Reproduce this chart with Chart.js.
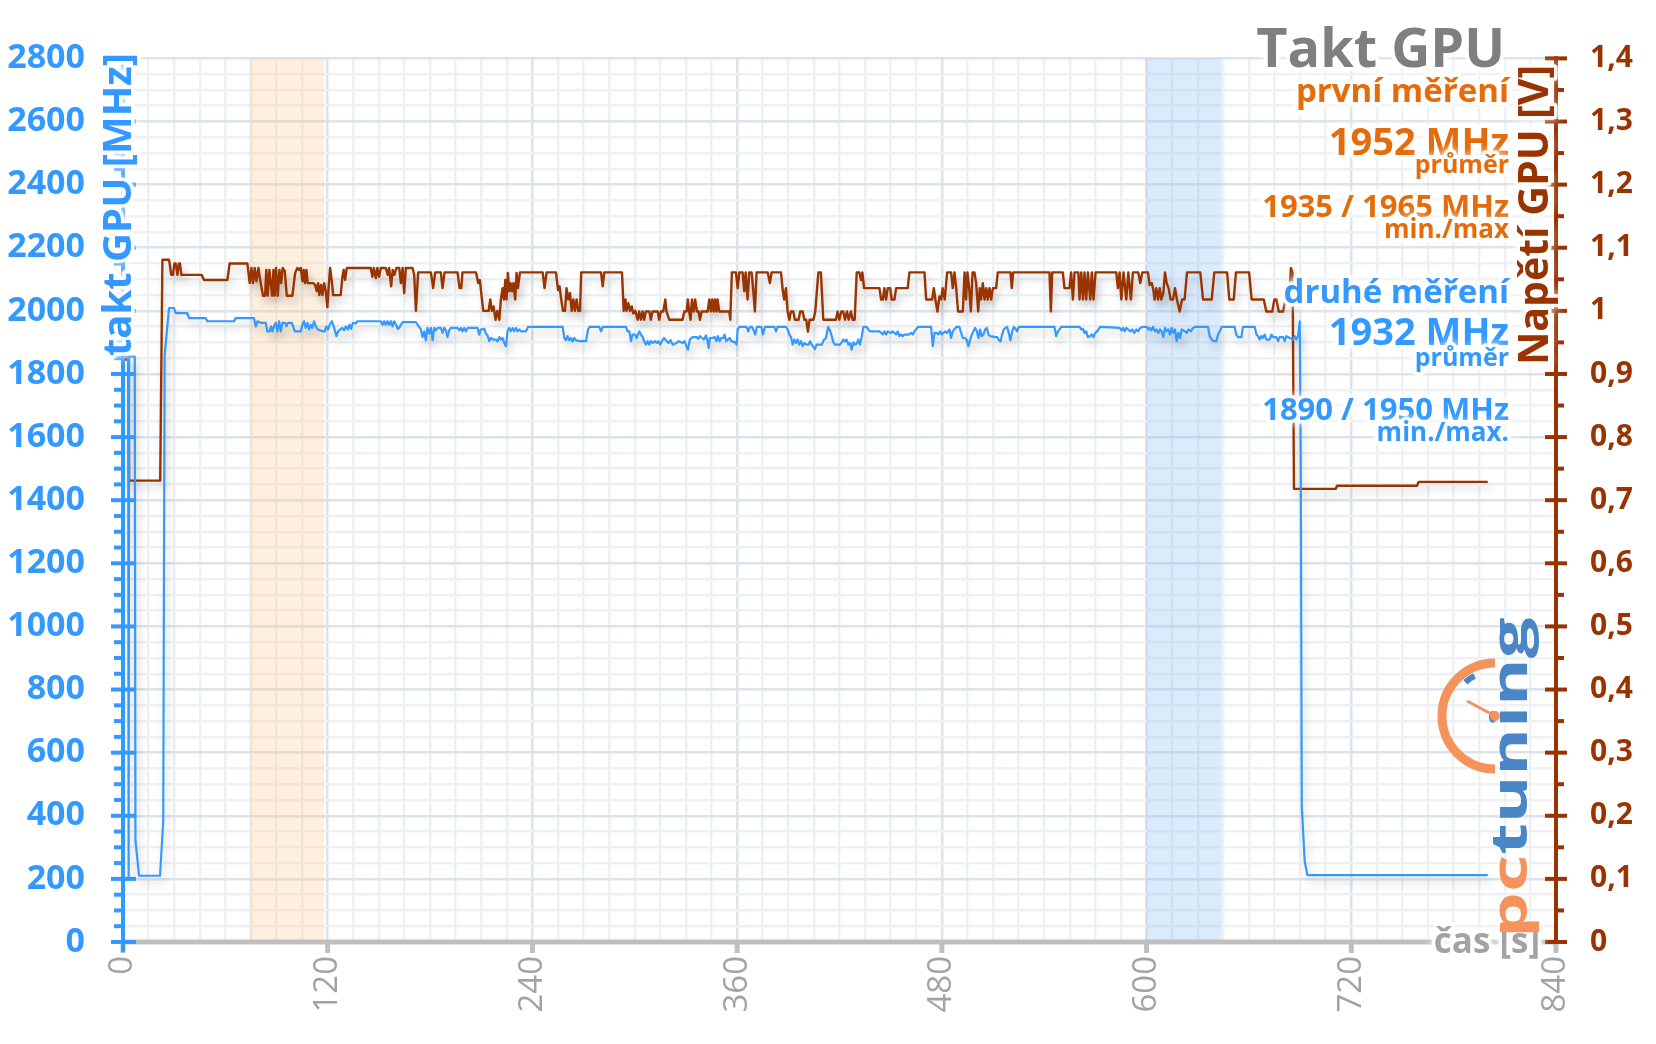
<!DOCTYPE html>
<html>
<head>
<meta charset="utf-8">
<title>Takt GPU</title>
<script src="https://cdn.jsdelivr.net/npm/chart.js@4.4.1/dist/chart.umd.min.js"></script>
<style>
  html, body { margin: 0; padding: 0; background: #ffffff; }
  #chart { display: block; }
</style>
</head>
<body>
<canvas id="chart" width="1656" height="1044"></canvas>
<script>
// GPU voltage samples [time s, volts] (first run)
const voltSamples = [
  [0,0.923],[3.2,0.923],[3.6,0.731],[21.8,0.731],[23.1,1.081],[27.0,1.081],[28.3,1.057],[29.3,1.057],
  [30.1,1.075],[30.9,1.075],[31.9,1.057],[32.8,1.075],[33.4,1.075],[34.2,1.057],[46.1,1.057],[47.5,1.049],
  [61.2,1.049],[62.5,1.075],[72.9,1.075],[74.3,1.044],[75.3,1.068],[76.2,1.044],[77.2,1.068],[78.2,1.047],
  [79.4,1.068],[80.7,1.044],[82.1,1.024],[83.3,1.024],[84.0,1.065],[84.8,1.024],[85.8,1.065],[86.6,1.044],
  [87.4,1.024],[88.2,1.065],[88.9,1.024],[89.7,1.068],[90.7,1.024],[91.7,1.065],[92.7,1.044],[93.6,1.068],
  [94.8,1.063],[96.0,1.024],[99.3,1.024],[100.9,1.060],[102.2,1.068],[103.2,1.065],[104.2,1.068],[105.2,1.047],
  [105.9,1.065],[106.7,1.044],[107.5,1.065],[108.3,1.044],[111.4,1.044],[112.6,1.041],[113.6,1.031],[114.4,1.044],
  [115.1,1.025],[116.1,1.041],[116.9,1.025],[117.9,1.044],[118.9,1.031],[119.8,1.006],[120.6,1.039],[121.4,1.068],
  [122.4,1.047],[123.2,1.025],[127.6,1.025],[128.6,1.054],[129.4,1.065],[130.2,1.049],[131.2,1.068],[145.2,1.068],
  [146.2,1.054],[147.0,1.068],[148.2,1.052],[149.1,1.068],[150.1,1.054],[151.1,1.068],[154.0,1.068],[155.2,1.057],
  [156.0,1.068],[157.2,1.039],[158.1,1.065],[159.1,1.057],[160.3,1.068],[161.9,1.068],[162.9,1.044],[163.9,1.068],
  [164.8,1.028],[165.8,1.068],[169.7,1.068],[170.7,1.057],[171.7,1.000],[173.0,1.061],[180.5,1.061],[181.8,1.036],
  [183.0,1.061],[186.3,1.061],[187.3,1.036],[188.5,1.061],[196.1,1.061],[197.3,1.036],[198.3,1.036],[199.0,1.061],
  [206.9,1.061],[208.2,1.044],[209.2,1.049],[210.2,1.023],[211.2,1.000],[214.3,1.000],[215.3,1.018],[216.2,1.000],
  [217.2,1.007],[218.4,0.986],[219.4,1.000],[220.6,0.986],[221.5,1.018],[222.5,1.036],[223.3,1.018],[224.1,1.049],
  [224.8,1.018],[225.6,1.060],[226.4,1.031],[227.2,1.044],[228.0,1.031],[228.9,1.044],[229.9,1.018],[230.7,1.060],
  [231.5,1.036],[232.7,1.061],[246.0,1.061],[247.1,1.036],[248.3,1.061],[253.8,1.061],[255.0,1.033],[255.9,1.039],
  [256.9,1.018],[257.9,1.000],[259.1,1.000],[260.0,1.036],[261.0,1.018],[262.0,1.028],[263.0,1.000],[264.0,1.018],
  [264.9,1.000],[265.9,1.018],[266.9,1.000],[267.9,1.000],[268.6,1.061],[280.2,1.061],[281.2,1.039],[282.1,1.061],
  [292.5,1.061],[293.5,1.000],[294.5,1.018],[295.2,1.000],[296.2,1.012],[297.2,1.000],[298.2,1.007],[299.1,0.996],
  [300.3,1.000],[301.7,0.986],[302.6,0.999],[303.6,0.986],[304.6,0.999],[305.5,0.986],[306.5,0.999],[308.5,0.999],
  [309.4,0.986],[310.4,0.999],[313.4,0.999],[314.3,0.986],[315.3,0.999],[316.7,0.999],[317.9,1.018],[318.6,0.999],
  [320.2,0.986],[328.0,0.986],[329.0,0.999],[330.4,0.999],[331.1,1.018],[331.9,0.999],[332.7,0.986],[333.5,1.018],
  [334.5,0.999],[335.4,1.018],[336.4,0.999],[337.4,0.999],[338.2,0.986],[339.2,0.999],[342.7,0.999],[343.7,1.018],
  [344.6,0.999],[345.4,1.018],[346.2,0.999],[347.0,1.018],[347.8,0.999],[348.5,1.018],[349.5,0.999],[355.4,0.999],
  [356.0,0.986],[356.9,1.061],[359.3,1.061],[360.3,1.036],[361.3,1.061],[363.2,1.061],[364.2,1.031],[365.0,1.061],
  [366.1,1.018],[367.1,1.061],[368.5,1.061],[369.5,1.031],[370.4,0.999],[371.4,1.061],[377.9,1.061],[379.2,1.044],
  [380.2,1.061],[385.7,1.061],[386.7,1.033],[387.6,1.018],[388.6,1.036],[389.6,0.999],[390.6,0.986],[391.5,0.999],
  [392.9,0.999],[393.9,0.986],[396.0,0.986],[397.0,0.999],[398.4,0.999],[399.4,0.986],[400.5,0.986],[401.5,0.967],
  [402.5,0.986],[404.7,0.986],[405.8,0.999],[407.6,1.061],[409.1,1.061],[410.5,0.986],[417.9,0.986],[418.9,0.999],
  [419.9,0.986],[421.1,0.999],[422.2,0.999],[423.2,0.986],[424.4,0.999],[425.4,0.986],[426.7,0.999],[427.7,0.986],
  [428.9,0.986],[430.1,1.061],[431.6,1.061],[432.6,1.049],[433.4,1.061],[434.4,1.036],[443.4,1.036],[444.4,1.018],
  [445.4,1.018],[446.3,1.036],[447.3,1.018],[448.3,1.036],[449.7,1.036],[450.6,1.018],[452.2,1.018],[453.2,1.036],
  [460.0,1.036],[461.0,1.061],[469.8,1.061],[470.8,1.018],[474.3,1.018],[475.3,1.036],[476.2,1.018],[477.4,0.999],
  [478.6,1.023],[479.6,1.018],[480.5,1.036],[481.7,1.018],[483.1,1.061],[485.4,1.061],[486.4,1.036],[487.4,1.061],
  [488.4,1.036],[489.5,0.999],[492.3,0.999],[493.3,1.061],[494.2,1.018],[495.0,1.061],[496.0,1.036],[497.0,0.999],
  [498.0,1.061],[499.1,1.061],[500.1,1.044],[501.3,0.999],[502.2,1.036],[503.0,1.018],[504.0,1.044],[505.0,1.018],
  [506.0,1.036],[506.9,1.018],[507.9,1.036],[508.9,1.018],[509.9,1.036],[511.8,1.036],[512.8,1.061],[520.2,1.061],
  [521.0,1.036],[521.8,1.061],[543.1,1.061],[543.9,0.999],[544.7,1.061],[550.9,1.061],[551.9,1.036],[554.8,1.036],
  [555.8,1.061],[556.8,1.018],[557.8,1.061],[560.0,1.061],[560.7,1.018],[561.7,1.061],[562.7,1.018],[563.6,1.061],
  [564.6,1.018],[565.6,1.061],[567.0,1.018],[567.9,1.061],[568.9,1.018],[570.1,1.061],[582.2,1.061],[583.2,1.036],
  [584.2,1.061],[585.2,1.018],[586.5,1.061],[588.1,1.018],[589.3,1.061],[590.8,1.018],[592.0,1.061],[595.1,1.061],
  [596.3,1.044],[597.5,1.061],[600.8,1.061],[601.8,1.041],[603.0,1.044],[603.8,1.036],[604.7,1.018],[605.7,1.036],
  [606.7,1.018],[607.7,1.036],[608.6,1.018],[609.8,1.028],[610.8,1.061],[611.8,1.044],[612.9,1.036],[614.1,1.018],
  [615.5,1.018],[616.7,1.036],[617.8,1.018],[619.4,0.999],[620.8,1.018],[622.3,1.018],[623.7,1.061],[631.5,1.061],
  [633.1,1.018],[638.2,1.018],[639.7,1.061],[647.2,1.061],[648.5,1.018],[651.1,1.018],[652.4,1.061],[660.1,1.061],
  [661.6,1.018],[668.7,1.018],[670.2,0.999],[673.7,0.999],[674.9,1.018],[676.1,1.018],[677.5,0.999],[680.0,0.999],
  [681.4,1.018],[683.5,1.018],[684.6,1.068],[685.6,1.060],[686.4,0.718],[711.0,0.718],[711.6,0.723],[758.6,0.723],
  [759.4,0.729],[800.0,0.729]
];

// GPU clock samples [time s, MHz] (second run)
const clockSamples = [
  [0,1855],[3.0,1855],[3.3,206],[3.6,1855],[6.9,1855],[7.3,322],[9.4,210],[21.7,210],[23.6,385],[24.4,1860],
  [27.0,2009],[29.9,2009],[30.9,1993],[37.7,1993],[38.7,1977],[48.5,1977],[49.4,1967],[65.1,1967],[66.1,1977],
  [76.8,1977],[77.8,1951],[78.8,1967],[80.7,1962],[83.7,1962],[84.6,1935],[86.0,1935],[86.8,1951],[87.6,1935],
  [88.5,1951],[89.5,1962],[90.5,1935],[91.5,1967],[92.5,1935],[93.4,1962],[95.0,1962],[95.8,1951],[96.6,1962],
  [98.9,1962],[99.7,1951],[100.7,1935],[104.2,1935],[105.2,1956],[106.1,1967],[107.1,1946],[108.1,1962],[109.1,1941],
  [110.1,1956],[111.0,1946],[112.0,1967],[113.0,1951],[114.2,1941],[117.3,1935],[118.3,1935],[119.2,1951],[120.2,1941],
  [121.2,1956],[122.4,1967],[123.5,1951],[125.1,1920],[126.1,1935],[127.4,1941],[128.6,1946],[129.6,1938],[130.6,1951],
  [131.8,1941],[132.7,1956],[133.7,1943],[134.7,1962],[136.4,1960],[137.4,1967],[151.1,1967],[152.1,1956],[153.1,1967],
  [154.0,1956],[155.0,1967],[156.0,1956],[157.0,1967],[158.0,1951],[158.9,1967],[160.1,1956],[161.1,1943],[161.9,1946],
  [162.9,1956],[163.9,1964],[171.7,1964],[172.7,1956],[174.6,1941],[175.6,1917],[176.6,1935],[177.5,1907],[178.5,1946],
  [179.5,1928],[180.5,1946],[181.5,1907],[182.4,1946],[183.4,1938],[184.4,1946],[186.3,1946],[187.3,1930],[188.3,1946],
  [189.3,1938],[190.2,1917],[191.2,1938],[192.2,1946],[196.1,1946],[197.1,1938],[198.1,1946],[199.0,1935],[200.0,1946],
  [201.0,1935],[202.0,1946],[207.8,1946],[208.8,1925],[209.8,1941],[211.8,1943],[212.7,1928],[213.7,1922],[214.7,1904],
  [215.7,1914],[217.0,1909],[218.6,1909],[219.6,1903],[220.6,1917],[221.5,1909],[222.5,1914],[223.5,1898],[224.5,1888],
  [225.4,1935],[226.4,1946],[227.4,1935],[228.4,1946],[229.3,1935],[230.3,1946],[231.3,1935],[232.3,1941],[233.3,1935],
  [236.2,1935],[237.4,1949],[257.7,1949],[258.7,1914],[259.7,1907],[260.6,1920],[261.6,1907],[262.6,1914],[263.6,1903],
  [264.5,1914],[265.5,1907],[267.5,1904],[271.4,1904],[272.6,1941],[273.5,1949],[279.2,1949],[280.2,1935],[281.2,1949],
  [294.8,1949],[295.8,1935],[296.8,1935],[297.8,1904],[298.7,1925],[300.1,1925],[301.1,1914],[302.6,1935],[303.6,1925],
  [304.6,1917],[305.5,1904],[306.5,1893],[307.5,1904],[308.5,1893],[309.4,1904],[310.8,1898],[311.8,1904],[313.0,1898],
  [313.9,1904],[314.9,1893],[315.9,1904],[317.1,1914],[318.2,1907],[319.8,1898],[321.0,1907],[322.2,1893],[324.5,1898],
  [325.7,1904],[328.0,1898],[329.2,1904],[330.2,1888],[331.1,1877],[332.3,1909],[333.9,1917],[336.2,1917],[337.2,1911],
  [338.2,1920],[339.4,1914],[340.5,1909],[341.7,1922],[342.7,1904],[343.3,1883],[344.0,1914],[345.6,1914],[346.8,1917],
  [347.8,1904],[348.7,1920],[349.7,1904],[350.7,1914],[351.9,1914],[352.6,1925],[353.6,1904],[354.6,1909],[355.6,1914],
  [356.6,1904],[358.9,1900],[359.7,1893],[360.3,1941],[361.3,1949],[365.5,1949],[366.5,1935],[367.5,1949],[368.7,1949],
  [369.7,1938],[370.6,1925],[371.6,1949],[374.2,1949],[375.1,1925],[376.3,1949],[381.8,1949],[382.8,1935],[383.7,1949],
  [388.6,1949],[389.6,1941],[390.6,1925],[391.6,1917],[392.5,1893],[393.5,1909],[394.5,1898],[395.5,1909],[396.4,1893],
  [397.4,1904],[398.4,1888],[399.4,1898],[400.7,1893],[401.9,1893],[402.7,1904],[403.7,1893],[404.7,1886],[405.6,1879],
  [406.6,1893],[409.7,1893],[410.7,1907],[412.1,1914],[413.3,1949],[414.2,1941],[415.2,1925],[416.2,1904],[417.2,1893],
  [420.3,1893],[421.3,1900],[422.2,1909],[423.2,1903],[424.2,1909],[425.2,1893],[426.2,1898],[427.1,1877],[428.1,1900],
  [429.1,1893],[430.1,1896],[431.0,1909],[432.0,1893],[433.0,1917],[434.0,1949],[435.9,1949],[436.9,1941],[437.9,1935],
  [443.4,1935],[445.4,1925],[446.3,1935],[447.3,1925],[448.3,1935],[450.2,1930],[451.2,1935],[453.2,1925],[454.2,1935],
  [455.1,1920],[456.1,1925],[457.1,1920],[458.1,1925],[460.6,1925],[462.0,1930],[463.0,1925],[463.9,1935],[464.9,1941],
  [465.9,1949],[473.7,1949],[474.7,1888],[475.7,1930],[477.0,1930],[478.0,1925],[479.0,1935],[480.0,1925],[480.9,1930],
  [481.9,1935],[482.9,1930],[484.5,1941],[485.4,1914],[486.4,1935],[487.6,1943],[488.6,1949],[490.3,1949],[491.3,1930],
  [492.3,1914],[493.6,1914],[494.6,1907],[495.6,1888],[496.6,1909],[497.6,1925],[498.5,1935],[499.5,1946],[500.5,1935],
  [501.5,1914],[502.4,1941],[503.4,1920],[504.4,1925],[505.4,1941],[506.4,1946],[507.3,1925],[508.3,1920],[511.4,1917],
  [512.4,1917],[513.4,1907],[514.4,1903],[515.3,1925],[516.3,1941],[517.3,1946],[518.3,1949],[519.3,1928],[520.2,1907],
  [521.2,1935],[522.2,1949],[523.2,1943],[524.1,1935],[525.1,1949],[546.0,1949],[547.0,1920],[548.0,1935],[549.0,1941],
  [549.9,1949],[560.7,1949],[561.7,1941],[562.7,1943],[563.6,1930],[564.6,1935],[565.6,1917],[567.0,1920],[567.9,1925],
  [568.9,1917],[569.9,1930],[570.9,1935],[571.8,1941],[572.8,1949],[584.2,1946],[585.2,1938],[586.2,1946],[587.1,1935],
  [588.1,1946],[589.1,1941],[590.5,1935],[591.6,1941],[592.8,1930],[594.0,1941],[595.0,1935],[596.3,1946],[597.9,1949],
  [600.2,1949],[601.0,1941],[601.8,1946],[602.8,1938],[603.8,1949],[604.9,1935],[605.9,1941],[606.9,1930],[607.9,1941],
  [608.8,1935],[609.8,1917],[610.8,1946],[611.8,1935],[612.7,1941],[613.7,1925],[614.7,1946],[615.7,1930],[616.7,1941],
  [617.6,1904],[618.6,1930],[619.6,1914],[620.6,1941],[622.5,1935],[623.5,1930],[624.5,1941],[626.0,1935],[627.2,1946],
  [628.4,1949],[636.0,1949],[637.0,1920],[638.2,1909],[639.3,1904],[640.9,1904],[641.9,1925],[642.9,1935],[644.0,1949],
  [651.6,1949],[652.6,1925],[653.6,1917],[655.6,1917],[656.5,1949],[663.4,1949],[664.4,1925],[665.3,1920],[666.3,1909],
  [667.3,1920],[668.3,1914],[669.2,1925],[670.2,1909],[672.2,1909],[673.2,1925],[674.1,1917],[676.1,1917],[677.1,1904],
  [678.0,1917],[680.0,1917],[681.0,1904],[681.9,1920],[683.9,1914],[685.9,1909],[686.8,1920],[687.8,1909],[688.8,1920],
  [689.8,1967],[690.4,1500],[691.0,430],[692.7,255],[694.3,212],[800.0,212]
];

// Highlighted time spans [from s, to s]
const bandSpans = [[74, 118], [600, 644]];

// Axis ticks and labels
const timeTicks = [0, 120, 240, 360, 480, 600, 720, 840];
const clockTicks = [0, 200, 400, 600, 800, 1000, 1200, 1400, 1600, 1800, 2000, 2200, 2400, 2600, 2800];
const voltTicks = [0, 0.1, 0.2, 0.3, 0.4, 0.5, 0.6, 0.7, 0.8, 0.9, 1.0, 1.1, 1.2, 1.3, 1.4];
const voltTickLabels = ['0', '0,1', '0,2', '0,3', '0,4', '0,5', '0,6', '0,7', '0,8', '0,9', '1', '1,1', '1,2', '1,3', '1,4'];
const timeMinorStep = 15;
const clockMinorStep = 50;

// Summary texts in the top right corner
const firstRunLines = ['první měření', '1952 MHz', 'průměr', '1935 / 1965 MHz', 'min./max'];
const secondRunLines = ['druhé měření', '1932 MHz', 'průměr', '1890 / 1950 MHz', 'min./max.'];

// Colours and fonts
const FONT = '"Open Sans", "DejaVu Sans", sans-serif';
const clockColor = '#3399ff';
const voltColor = '#993300';
const orangeColor = '#e46c0a';
const grayText = '#a3a3a3';
const gridMajor = '#dde3ea';
const gridMinor = '#eef1f4';
const bandFills = ['rgba(250,196,140,0.28)', 'rgba(140,190,245,0.30)'];

// Build full list of grid values for a scale
function gridValues(max, step) {
  const values = [];
  for (let v = 0; v <= max + 1e-9; v += step) values.push(v);
  return values;
}

// Text with a soft white halo
function haloText(ctx, text, x, y, font, color, align) {
  ctx.save();
  ctx.font = font;
  ctx.textAlign = align || 'right';
  ctx.textBaseline = 'alphabetic';
  ctx.lineJoin = 'round';
  ctx.strokeStyle = 'rgba(255,255,255,0.9)';
  ctx.lineWidth = 7;
  ctx.shadowColor = '#ffffff';
  ctx.shadowBlur = 8;
  ctx.strokeText(text, x, y);
  ctx.shadowBlur = 0;
  ctx.fillStyle = color;
  ctx.fillText(text, x, y);
  ctx.restore();
}

// Rotated (bottom to top) text with halo
function haloTextUp(ctx, text, x, y, font, color) {
  ctx.save();
  ctx.translate(x, y);
  ctx.rotate(-Math.PI / 2);
  haloText(ctx, text, 0, 0, font, color, 'left');
  ctx.restore();
}

// pctuning logo in the lower right part
function drawLogo(ctx) {
  ctx.save();
  ctx.translate(1527, 938);
  ctx.rotate(-Math.PI / 2);
  ctx.scale(1.45, 1);
  ctx.font = 'bold 50px ' + FONT;
  ctx.textBaseline = 'alphabetic';
  ctx.fillStyle = '#f4935c';
  ctx.fillText('pc', 0, 0);
  const w = ctx.measureText('pc').width;
  ctx.fillStyle = '#4a86c6';
  ctx.fillText('tuning', w, 0);
  ctx.restore();

  // gauge
  const cx = 1495, cy = 716;
  ctx.save();
  ctx.lineCap = 'butt';
  ctx.strokeStyle = '#f4935c';
  ctx.lineWidth = 9;
  ctx.beginPath();
  ctx.arc(cx, cy, 53, Math.PI / 2, Math.PI * 1.5);
  ctx.stroke();
  ctx.strokeStyle = '#4a86c6';
  ctx.lineWidth = 6;
  ctx.beginPath();
  ctx.arc(cx, cy, 45, Math.PI * 1.27, Math.PI * 1.35);
  ctx.stroke();
  ctx.strokeStyle = '#f4935c';
  ctx.lineWidth = 3;
  ctx.beginPath();
  ctx.moveTo(cx, cy);
  ctx.lineTo(cx - 28, cy - 15);
  ctx.stroke();
  ctx.fillStyle = '#f4935c';
  ctx.beginPath();
  ctx.arc(cx, cy, 5, 0, Math.PI * 2);
  ctx.fill();
  ctx.restore();
}

const decorations = {
  id: 'decorations',
  beforeDatasetsDraw(chart) {
    const { ctx, chartArea: a, scales: { x } } = chart;
    ctx.save();
    bandSpans.forEach((span, i) => {
      const x0 = x.getPixelForValue(span[0]);
      const x1 = x.getPixelForValue(span[1]);
      ctx.fillStyle = bandFills[i];
      ctx.fillRect(x0, a.top, x1 - x0, a.bottom - a.top);
    });
    ctx.restore();
  },
  beforeDatasetDraw(chart) {
    const ctx = chart.ctx;
    ctx.save();
    ctx.shadowColor = 'rgba(0,0,0,0.22)';
    ctx.shadowBlur = 9;
    ctx.shadowOffsetX = 3;
    ctx.shadowOffsetY = 6;
  },
  afterDatasetDraw(chart) {
    chart.ctx.restore();
  },
  afterDatasetsDraw(chart) {
    const { ctx, chartArea: a, scales: { x, yF, yV } } = chart;
    ctx.save();

    // time axis
    ctx.fillStyle = '#bfbfbf';
    ctx.fillRect(a.left, a.bottom - 2.5, a.right - a.left, 5);
    timeTicks.forEach(t => {
      const px = x.getPixelForValue(t);
      ctx.fillRect(px - 2.5, a.bottom, 5, 11);
    });

    // clock axis (left)
    ctx.fillStyle = clockColor;
    ctx.fillRect(a.left - 2, a.top - 2, 4, a.bottom - a.top + 12);
    gridValues(2800, clockMinorStep).forEach(v => {
      const py = yF.getPixelForValue(v);
      if (v % 200 === 0) ctx.fillRect(a.left - 12, py - 2, 25, 4);
      else ctx.fillRect(a.left - 9, py - 2, 9, 4);
    });

    // voltage axis (right)
    ctx.fillStyle = voltColor;
    ctx.fillRect(a.right - 2, a.top - 2, 4, a.bottom - a.top + 4);
    gridValues(1.4, 0.05).forEach((v, i) => {
      const py = yV.getPixelForValue(v);
      if (i % 2 === 0) ctx.fillRect(a.right - 11, py - 2, 22, 4);
      else ctx.fillRect(a.right, py - 2, 8, 4);
    });
    ctx.restore();
  },
  afterDraw(chart) {
    const ctx = chart.ctx;
    const b = 'bold ';

    // axis titles
    haloTextUp(ctx, 'takt GPU [MHz]', 131, 356, b + '40px ' + FONT, clockColor);
    haloTextUp(ctx, 'Napětí GPU [V]', 1548, 365, b + '41px ' + FONT, voltColor);
    haloText(ctx, 'čas [s]', 1540, 953, b + '35px ' + FONT, grayText);

    drawLogo(ctx);

    // chart title and summaries
    haloText(ctx, 'Takt GPU', 1505, 67, b + '54px ' + FONT, '#7f7f7f');
    const sizes = [33, 38, 25, 31, 26];
    const firstBase = [102, 155, 173, 217, 238];
    const secondBase = [303, 345, 366, 420, 441];
    firstRunLines.forEach((t, i) => haloText(ctx, t, 1509, firstBase[i], b + sizes[i] + 'px ' + FONT, orangeColor));
    secondRunLines.forEach((t, i) => haloText(ctx, t, 1509, secondBase[i], b + sizes[i] + 'px ' + FONT, clockColor));
  }
};

const ctx = document.getElementById('chart').getContext('2d');
new Chart(ctx, {
  type: 'line',
  data: {
    datasets: [
      {
        label: 'Takt GPU',
        data: clockSamples.map(p => ({ x: p[0], y: p[1] })),
        yAxisID: 'yF',
        borderColor: clockColor,
        borderWidth: 2.2,
        pointRadius: 0,
        tension: 0,
        borderJoinStyle: 'round'
      },
      {
        label: 'Napětí GPU',
        data: voltSamples.map(p => ({ x: p[0], y: p[1] })),
        yAxisID: 'yV',
        borderColor: voltColor,
        borderWidth: 2.4,
        pointRadius: 0,
        tension: 0,
        borderJoinStyle: 'round'
      }
    ]
  },
  options: {
    responsive: false,
    animation: false,
    devicePixelRatio: 1,
    layout: { padding: { top: 56, left: 0, right: 0, bottom: 0 } },
    plugins: { legend: { display: false }, tooltip: { enabled: false } },
    scales: {
      x: {
        type: 'linear',
        min: 0,
        max: 840,
        afterBuildTicks: s => { s.ticks = gridValues(840, timeMinorStep).map(v => ({ value: v })); },
        afterFit: s => { s.height = 102; },
        border: { display: false },
        grid: {
          drawTicks: false,
          lineWidth: 2.5,
          color: c => (timeTicks.includes(c.tick.value) ? gridMajor : gridMinor)
        },
        ticks: {
          autoSkip: false,
          minRotation: 90,
          maxRotation: 90,
          padding: 14,
          color: grayText,
          font: { family: FONT, size: 33 },
          callback: v => (timeTicks.includes(v) ? String(v) : '')
        }
      },
      yF: {
        type: 'linear',
        position: 'left',
        min: 0,
        max: 2800,
        afterBuildTicks: s => { s.ticks = gridValues(2800, clockMinorStep).map(v => ({ value: v })); },
        afterFit: s => { s.width = 123; },
        border: { display: false },
        grid: {
          drawTicks: false,
          lineWidth: 2.5,
          color: c => (clockTicks.includes(c.tick.value) ? gridMajor : gridMinor)
        },
        ticks: {
          autoSkip: false,
          padding: 38,
          color: clockColor,
          font: { family: FONT, size: 34, weight: 'bold' },
          callback: v => (clockTicks.includes(v) ? String(v) : '')
        }
      },
      yV: {
        type: 'linear',
        position: 'right',
        min: 0,
        max: 1.4,
        afterBuildTicks: s => { s.ticks = voltTicks.map(v => ({ value: v })); },
        afterFit: s => { s.width = 100; },
        border: { display: false },
        grid: { drawOnChartArea: false, drawTicks: false },
        ticks: {
          autoSkip: false,
          padding: 34,
          color: voltColor,
          font: { family: FONT, size: 30, weight: 'bold' },
          callback: (v, i) => voltTickLabels[i]
        }
      }
    }
  },
  plugins: [decorations]
});
</script>
</body>
</html>
